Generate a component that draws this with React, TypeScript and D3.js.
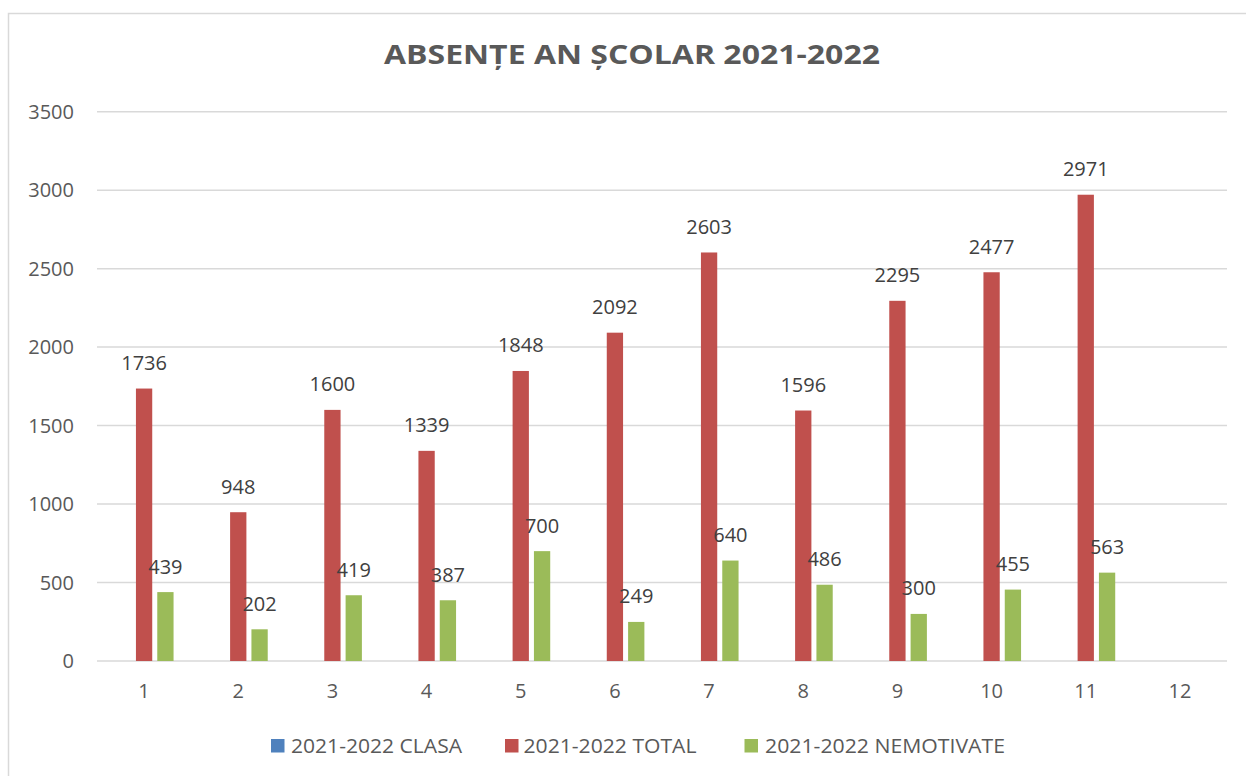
import React from "react";
import * as d3 from "d3";

const categories = ["1", "2", "3", "4", "5", "6", "7", "8", "9", "10", "11", "12"];
const seriesNames = ["2021-2022 CLASA", "2021-2022 TOTAL", "2021-2022 NEMOTIVATE"];
const clasaValues: (number | null)[] = [null, null, null, null, null, null, null, null, null, null, null, null];
const totalValues: (number | null)[] = [1736, 948, 1600, 1339, 1848, 2092, 2603, 1596, 2295, 2477, 2971, null];
const nemotivateValues: (number | null)[] = [439, 202, 419, 387, 700, 249, 640, 486, 300, 455, 563, null];
const yTicks = [0, 500, 1000, 1500, 2000, 2500, 3000, 3500];
const colors = ["#4F81BD", "#C0504D", "#9BBB59"];
const title = "ABSENȚE AN ȘCOLAR 2021-2022";

const W = 1246;
const H = 776;
const FONT = "'Open Sans', 'Noto Sans', sans-serif";

export default function App() {
  const x = d3.scaleBand<string>().domain(categories).range([97, 1227]).padding(0);
  const y = d3.scaleLinear().domain([0, 3500]).range([661, 111.7]);
  const bw = x.bandwidth();
  const inner = d3.scalePoint<string>().domain(seriesNames).range([-bw * 0.2265, bw * 0.2265]);
  const barW = bw * 0.173;
  const allSeries = [clasaValues, totalValues, nemotivateValues];

  const legendItems = [
    { sq: 271, tx: 291, len: 171 },
    { sq: 505, tx: 523.5, len: 173 },
    { sq: 744.5, tx: 765, len: 240 },
  ];

  return (
    <svg width={W} height={H} style={{ position: "absolute", left: 0, top: 0, background: "#fff" }} fontFamily={FONT}>
      <rect x={8.5} y={13.5} width={W + 10} height={H + 10} fill="#fff" stroke="#D9D9D9" strokeWidth={1.5} />
      <text x={632} y={63.5} textAnchor="middle" fontSize={27} fontWeight="bold" fill="#595959" textLength={496} lengthAdjust="spacingAndGlyphs">
        {title}
      </text>
      {yTicks.map((t) => (
        <g key={t}>
          <line x1={97} x2={1227} y1={y(t)} y2={y(t)} stroke="#D9D9D9" strokeWidth={1.5} />
          <text x={74} y={y(t)} dy="0.36em" textAnchor="end" fontSize={20} fill="#595959">
            {t}
          </text>
        </g>
      ))}
      {categories.map((c) => (
        <text key={c} x={(x(c) ?? 0) + bw / 2} y={698} textAnchor="middle" fontSize={20} fill="#595959">
          {c}
        </text>
      ))}
      {allSeries.map((vals, si) =>
        vals.map((v, i) => {
          if (v == null) return null;
          const cx = (x(categories[i]) ?? 0) + bw / 2 + (inner(seriesNames[si]) ?? 0);
          return (
            <g key={`${si}-${i}`}>
              <rect x={cx - barW / 2} y={y(v)} width={barW} height={y(0) - y(v)} fill={colors[si]} />
              <text x={cx} y={y(v) - 18.5} textAnchor="middle" fontSize={20} fill="#404040">
                {v}
              </text>
            </g>
          );
        })
      )}
      {seriesNames.map((s, i) => (
        <g key={s}>
          <rect x={legendItems[i].sq} y={739} width={13.5} height={13.5} fill={colors[i]} />
          <text x={legendItems[i].tx} y={752.5} fontSize={19.5} fill="#595959" textLength={legendItems[i].len} lengthAdjust="spacingAndGlyphs">
            {s}
          </text>
        </g>
      ))}
    </svg>
  );
}
